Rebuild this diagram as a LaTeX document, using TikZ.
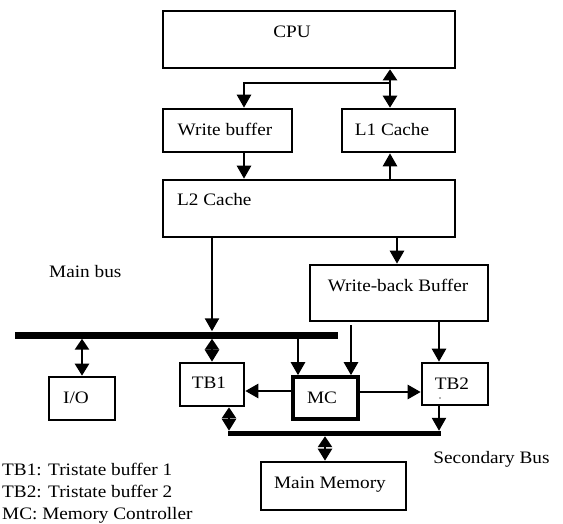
\documentclass[tikz,border=0pt]{standalone}
\usepackage{fontspec}
\setmainfont{Liberation Serif}[FakeStretch=1.1]
\usetikzlibrary{arrows.meta}
\begin{document}
\begin{tikzpicture}[x=1pt,y=-1pt,
  box/.style={draw, line width=2.6pt, inner sep=0pt},
  mcbox/.style={draw, line width=3.6pt, inner sep=0pt},
  lbl/.style={font=\fontsize{17.5}{21}\selectfont, inner sep=0pt, anchor=base},
  conn/.style={line width=2.5pt, line join=miter, -{Triangle[length=13pt,width=14pt]}},
  dconn/.style={line width=2.5pt, {Triangle[length=11pt,width=14pt]}-{Triangle[length=12pt,width=14pt]}},
  busbar/.style={fill=black, inner sep=0pt}]
\useasboundingbox (0,0) rectangle (563,524);
% boxes
\node[box, minimum width=292pt, minimum height=57pt] (cpu) at (309,39.5) {};
\node[box, minimum width=129pt, minimum height=43pt] (wbuf) at (227.5,130.5) {};
\node[box, minimum width=113pt, minimum height=43pt] (l1) at (398.5,130.5) {};
\node[box, minimum width=292pt, minimum height=57pt] (l2) at (309,208.5) {};
\node[box, minimum width=178pt, minimum height=56pt] (wb) at (399,293) {};
\node[box, minimum width=66pt, minimum height=43pt] (io) at (82,398.5) {};
\node[box, minimum width=64pt, minimum height=43pt] (tb1) at (212,384.5) {};
\node[mcbox, minimum width=65pt, minimum height=42pt] (mc) at (325.5,398) {};
\node[box, minimum width=66pt, minimum height=42pt] (tb2) at (455,384) {};
\node[box, minimum width=145pt, minimum height=48pt] (mm) at (333.5,486) {};
% buses
\node[busbar, minimum width=323pt, minimum height=7pt] (mbus) at (176.5,335) {};
\node[busbar, minimum width=213pt, minimum height=5pt] (sbus) at (334,433.5) {};
% helper coordinates
\coordinate (xa) at (390,0);
\coordinate (xb) at (244,0);
\coordinate (xc) at (212,0);
\coordinate (xd) at (397,0);
\coordinate (xe) at (82,0);
\coordinate (xf) at (298,0);
\coordinate (xg) at (351,0);
\coordinate (xh) at (439,0);
\coordinate (xi) at (229,0);
\coordinate (xj) at (325,0);
\coordinate (ya) at (0,83);
\coordinate (ym1) at (0,391);
\coordinate (ym2) at (0,392);
% connectors
\draw[dconn] (cpu.south -| xa) -- (l1.north -| xa);
\draw[conn] (ya -| xa) -- (ya -| xb) -- (wbuf.north -| xb);
\draw[conn] (wbuf.south -| xb) -- (l2.north -| xb);
\draw[conn] (l2.north -| xa) -- (l1.south -| xa);
\draw[conn] (l2.south -| xc) -- (mbus.north -| xc);
\draw[conn] (l2.south -| xd) -- (wb.north -| xd);
\draw[dconn] (mbus.south -| xe) -- (io.north);
\draw[dconn] (mbus.south -| xc) -- (tb1.north);
\draw[conn] (mbus.south -| xf) -- (mc.north -| xf);
\draw[conn] ([yshift=-3pt]wb.south -| xg) -- (mc.north -| xg);
\draw[conn] (wb.south -| xh) -- (tb2.north -| xh);
\draw[conn] (mc.west |- ym1) -- (tb1.east |- ym1);
\draw[conn] (mc.east |- ym2) -- (tb2.west |- ym2);
\draw[conn] (tb2.south -| xh) -- (sbus.north -| xh);
\draw[dconn] (tb1.south -| xi) -- (sbus.north -| xi);
\draw[dconn] (sbus.south -| xj) -- (mm.north -| xj);
% labels
\node[lbl] (tcpu) at (292,38) {CPU};
\node[lbl] (twbuf) at (225,136) {Write buffer};
\node[lbl] (tl1) at (392,136) {L1 Cache};
\node[lbl, anchor=base west] (tl2) at (177,206) {L2 Cache};
\node[lbl, anchor=base west] (tmain) at (49,277) {Main bus};
\node[lbl] (twb) at (398,291) {Write-back Buffer};
\node[lbl] (tio) at (76,403) {I/O};
\node[lbl] (ttb1) at (209,388) {TB1};
\node[lbl] (ttb2) at (452,389) {TB2};
\node[lbl] (tmc) at (322,403) {MC};
\node[lbl] (tmm) at (330,488) {Main Memory};
\node[lbl] (tsec) at (491.5,463) {Secondary Bus};
\node[lbl, anchor=base west] (leg1) at (2,475) {TB1: Tristate buffer 1};
\node[lbl, anchor=base west] (leg2) at (2,497.5) {TB2: Tristate buffer 2};
\node[lbl, anchor=base west] (leg3) at (2,519.5) {MC: Memory Controller};
\fill[black!60] (440,398) circle (0.8);
\end{tikzpicture}
\end{document}
